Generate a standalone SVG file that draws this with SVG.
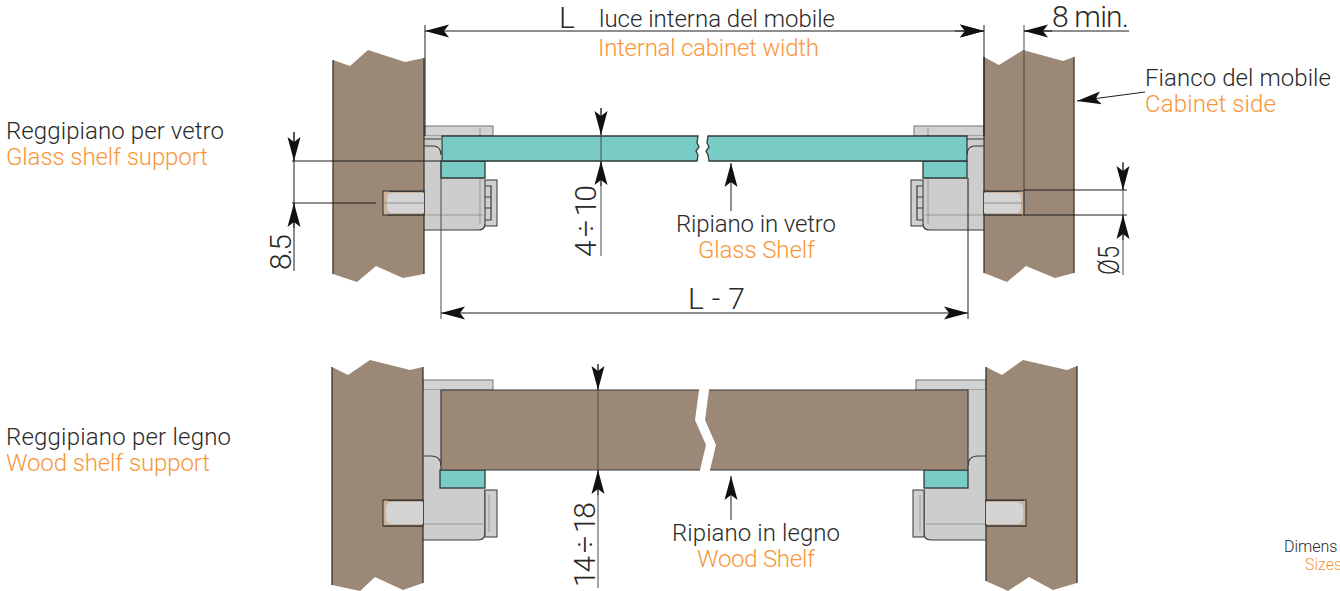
<svg xmlns="http://www.w3.org/2000/svg" width="1340" height="591" viewBox="0 0 1340 591">
<style>
text{font-family:Roboto,"Liberation Sans",sans-serif;font-weight:300;font-size:24px;fill:#2b2a29}
.o{fill:#f7963a}
.d{font-size:30px}
.m{text-anchor:middle}
.wood{fill:#9c8877}
.panel{stroke:#3a3530;stroke-width:1.3;fill:none}
.teal{fill:#79cbc5;stroke:#2f3a3a;stroke-width:1.3}
.body{fill:#cdcdcd}
.edge{fill:none;stroke:#3a3a3a;stroke-width:1.2}
.soft{fill:none;stroke:#8f8f8f;stroke-width:1}
.flange{fill:#d2d2d2;stroke:#7d7d7d;stroke-width:1.1}
.cap{fill:#cfcfcf;stroke:#444;stroke-width:1.1}
.hole{fill:#c9b39a;stroke:#2a2a2a;stroke-width:1}
.pin{fill:#d4d4d4}
.thin{fill:none;stroke:#8a8a8a;stroke-width:.8}
.dim{fill:none;stroke:#1c1c1c;stroke-width:1}
.gl{fill:none;stroke:#4a4a4a;stroke-width:1}
.ar{marker-end:url(#a)}
.as{marker-start:url(#as);marker-end:url(#a)}
</style>
<defs>
<marker id="a" markerUnits="userSpaceOnUse" markerWidth="26" markerHeight="15" refX="24" refY="7" orient="auto"><path d="M24,7L0,0.5L5,7L0,13.5Z" fill="#111"/></marker>
<marker id="as" markerUnits="userSpaceOnUse" markerWidth="26" markerHeight="15" refX="0" refY="7" orient="auto"><path d="M0,7L24,0.5L19,7L24,13.5Z" fill="#111"/></marker>
</defs>
<rect width="1340" height="591" fill="#fff"/>

<g id="glass-left-support">
<rect class="flange" x="424" y="126" width="69" height="10"/>
<path class="body" d="M424,136H441V178H485V224Q485,230 478,230H424Z"/>
<path class="edge" d="M424,146H433Q441,146 441,155M424,230H478Q485,230 485,224M424,139H441"/>
<rect class="cap" x="485" y="180" width="12" height="46"/>
<path class="thin" d="M424,215H483M480,178V224M480,128V136"/>
<path class="edge" d="M485,186H491V220H485M485,197H491M485,208H491" stroke-width=".8"/>
</g>
<g id="glass-right-support">
<rect class="flange" x="914" y="126" width="70" height="10"/>
<path class="body" d="M984,136H967V178H923V224Q923,230 930,230H984Z"/>
<path class="edge" d="M984,146H975Q967,146 967,155M984,230H930Q923,230 923,224M984,139H967"/>
<rect class="cap" x="911" y="180" width="12" height="46"/>
<path class="thin" d="M984,215H925M928,178V224M928,128V136"/>
<path class="edge" d="M923,186H917V220H923M923,197H917M923,208H917" stroke-width=".8"/>
</g>
<g id="glass-shelf">
<path class="teal" d="M441,161H485V178H441Z"/>
<path class="teal" d="M923,161H967V178H923Z"/>
<path class="teal" d="M442,136H698L697,143L699,147L696,151L698,155L697,161H442Z"/>
<path class="teal" d="M967,136H708L707,143L709,147L706,151L708,155L709,161H967Z"/>
</g>
<g id="glass-cabinet-left">
<path class="wood" d="M333,60L350,66L368,50L405,62L424,58V274L403,278L376,266L357,282L333,274Z"/>
<path class="panel" d="M333,274V60M424,58V274"/>
<rect class="hole" x="383" y="191" width="41" height="24"/>
<path class="pin" d="M424,193H393Q387,193 387,199V207Q387,213 393,213H424Z"/>
<path class="edge" d="M389,191.500H424M387,215H424" stroke-width="1.6"/>
<path class="soft" d="M383,203H424"/>
</g>
<g id="glass-cabinet-right">
<path class="wood" d="M984,57L999,65L1023,50L1063,61L1074,57V273L1055,278L1026,266L1007,282L984,273Z"/>
<path class="panel" d="M984,57V273M1074,57V273"/>
<rect class="hole" x="984" y="191" width="40" height="24"/>
<path class="pin" d="M984,193H1015Q1021,193 1021,199V207Q1021,213 1015,213H984Z"/>
<path class="edge" d="M984,191.500H1019M984,215H1021" stroke-width="1.6"/>
<path class="soft" d="M984,203H1026"/>
</g>

<g id="wood-left-support">
<rect class="flange" x="423" y="380" width="70" height="10"/>
<path class="body" d="M423,390H441V470H485V533Q485,540 478,540H423Z"/>
<path class="edge" d="M423,456H431Q441,456 441,466M423,540H478Q485,540 485,533V490"/>
<rect class="cap" x="485" y="490" width="12" height="47"/>
<path class="thin" d="M423,524H483M489,495V532"/>
</g>
<g id="wood-right-support">
<rect class="flange" x="916" y="380" width="70" height="10"/>
<path class="body" d="M986,390H968V470H924V533Q924,540 931,540H986Z"/>
<path class="edge" d="M986,456H978Q968,456 968,466M986,540H931Q924,540 924,533V490"/>
<rect class="cap" x="913" y="490" width="11" height="47"/>
<path class="thin" d="M986,524H926M920,495V532"/>
</g>
<g id="wood-shelf">
<rect class="teal" x="440" y="470" width="45" height="18"/>
<rect class="teal" x="924" y="470" width="44" height="18"/>
<path class="wood" d="M441,390H699L695,420L706,445L700,470H441Z"/>
<path class="wood" d="M968,390H709L705,420L716,445L710,470H968Z"/>
<path class="edge" d="M441,470V390H699M700,470H441M968,470V390H709M710,470H968"/>
</g>
<g id="wood-cabinet-left">
<path class="wood" d="M332,367L348,375L370,360L410,370L423,367V583L403,590L375,577L360,591L332,585Z"/>
<path class="panel" d="M332,367V585M423,367V583"/>
<rect class="hole" x="383" y="500" width="40" height="26"/>
<path class="pin" d="M423,502H393Q386,502 386,508V518Q386,524 393,524H423Z"/>
<path class="edge" d="M388,500.500H423M383,526H423" stroke-width="1.4"/>
</g>
<g id="wood-cabinet-right">
<path class="wood" d="M986,367L1002,375L1023,360L1067,370L1077,366V583L1053,590L1029,577L1008,591L986,581Z"/>
<path class="panel" d="M986,367V581M1077,366V583"/>
<rect class="hole" x="986" y="500" width="40" height="26"/>
<path class="pin" d="M986,502H1016Q1023,502 1023,508V518Q1023,524 1016,524H986Z"/>
<path class="edge" d="M986,500.500H1024M986,526H1026" stroke-width="1.4"/>
</g>

<g id="connectors">
<path class="dim" d="M425,25V136M984,25V136"/>
<path class="gl" d="M1024,25V215"/>
<path class="dim as" d="M425,31H984"/>
<path class="dim ar" d="M955,31H984"/>
<path class="dim" d="M1024,31H1129"/>
<path class="dim ar" d="M1052,31H1024"/>
<path class="dim" d="M292,161H441M292,203H376M294,132V271"/>
<path class="dim ar" d="M294,132V161"/>
<path class="dim ar" d="M294,228V203"/>
<path class="gl" d="M441,161V319"/>
<path class="dim" d="M968,178V319"/>
<path class="dim as" d="M441,313H968"/>
<path class="dim" d="M1024,190H1127M1024,215H1127"/>
<path class="gl" d="M1123,163V275"/>
<path class="dim ar" d="M1123,162V190"/>
<path class="dim ar" d="M1123,240V215"/>
<path class="gl" d="M601,108V256"/>
<path class="dim ar" d="M601,108V135"/>
<path class="dim ar" d="M601,186V161"/>
<path class="gl" d="M598,364V588"/>
<path class="dim ar" d="M598,364V390"/>
<path class="dim ar" d="M598,495V470"/>
<path class="dim ar" d="M731,211V163"/>
<path class="dim ar" d="M731,520V476"/>
<path class="dim ar" d="M1145,92L1077,101"/>
</g>

<g id="labels">
<text x="559" y="28" class="d">L</text>
<text x="599" y="27" textLength="236">luce interna del mobile</text>
<text x="598" y="56" class="o" textLength="221">Internal cabinet width</text>
<text x="1052" y="27" class="d" textLength="77">8 min.</text>
<text x="1145" y="86" textLength="186">Fianco del mobile</text>
<text x="1145" y="112" class="o" textLength="131">Cabinet side</text>
<text x="6" y="139" textLength="218">Reggipiano per vetro</text>
<text x="6" y="165" class="o" textLength="202">Glass shelf support</text>
<text x="6" y="445" textLength="225">Reggipiano per legno</text>
<text x="6" y="471" class="o" textLength="204">Wood shelf support</text>
<text x="676" y="232" textLength="160">Ripiano in vetro</text>
<text x="698" y="258" class="o" textLength="117">Glass Shelf</text>
<text x="672" y="541" textLength="168">Ripiano in legno</text>
<text x="697" y="567" class="o" textLength="118">Wood Shelf</text>
<text x="688" y="309" class="d" textLength="57">L - 7</text>
<text transform="translate(291 270) rotate(-90)" class="d" textLength="36">8.5</text>
<text transform="translate(596 257) rotate(-90)" class="d" textLength="72">4 ÷ 10</text>
<text transform="translate(595 587) rotate(-90)" class="d" textLength="85">14 ÷ 18</text>
<text transform="translate(1119 275) rotate(-90)" class="d" textLength="29" lengthAdjust="spacingAndGlyphs">Ø5</text>
<text x="1284" y="552" style="font-size:16px">Dimens</text>
<text x="1305" y="570" class="o" style="font-size:16px">Sizes</text>
</g>
</svg>
